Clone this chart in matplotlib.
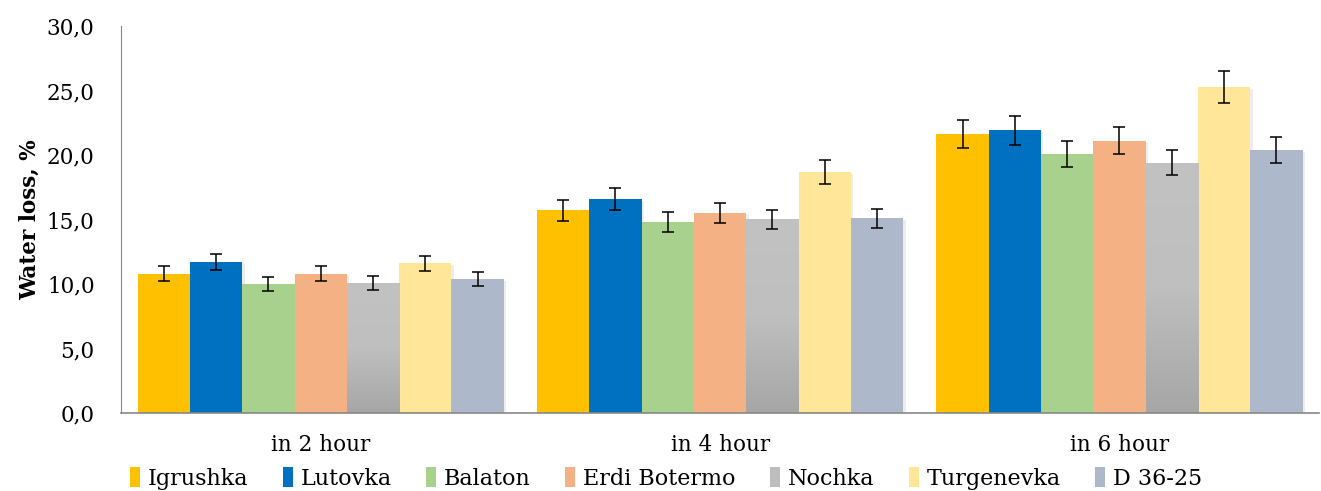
import numpy as np
import matplotlib
matplotlib.use("Agg")
import matplotlib.pyplot as plt
from matplotlib.colors import LinearSegmentedColormap

plt.rcParams['font.family'] = ['DejaVu Serif']

# data
periods = ['in 2 hour', 'in 4 hour', 'in 6 hour']
varieties = ['Igrushka', 'Lutovka', 'Balaton', 'Erdi Botermo', 'Nochka', 'Turgenevka', 'D 36-25']

igrushka = [10.8, 15.7, 21.6]
lutovka = [11.7, 16.6, 21.9]
balaton = [10.0, 14.8, 20.1]
erdi = [10.8, 15.5, 21.1]
nochka = [10.1, 15.0, 19.4]
turgenevka = [11.6, 18.7, 25.3]
d3625 = [10.4, 15.1, 20.4]

igrushka_err = [0.57, 0.80, 1.08]
lutovka_err = [0.60, 0.83, 1.10]
balaton_err = [0.53, 0.75, 1.00]
erdi_err = [0.57, 0.78, 1.06]
nochka_err = [0.53, 0.75, 0.98]
turgenevka_err = [0.60, 0.93, 1.25]
d3625_err = [0.54, 0.75, 1.03]

values = [igrushka, lutovka, balaton, erdi, nochka, turgenevka, d3625]
errors = [igrushka_err, lutovka_err, balaton_err, erdi_err, nochka_err, turgenevka_err, d3625_err]
colors = ['#FFC000', '#0070C0', '#A9D18E', '#F4B183', '#BDBDBD', '#FFE699', '#ADB9CA']

fig = plt.figure(figsize=(13.21, 4.91), dpi=100)
ax = fig.add_axes([0.0916, 0.159, 0.907, 0.788])

x = np.arange(len(periods))
w = 0.131
gray_cmap = LinearSegmentedColormap.from_list('g', ['#A6A6A6', '#BFBFBF', '#C2C2C2'])

for i, (name, vals, errs, c) in enumerate(zip(varieties, values, errors, colors)):
    pos = x + (i - 3) * w
    # soft shadow
    ax.bar(pos + 0.006, vals, w, bottom=-0.15, color='#000000', alpha=0.07, zorder=1, linewidth=0)
    bars = ax.bar(pos, vals, w, color=c, label=name, zorder=2, linewidth=0)
    if name == 'Nochka':
        for b in bars:
            bx, by = b.get_x(), b.get_y()
            bw, bh = b.get_width(), b.get_height()
            grad = np.linspace(0, 1, 256).reshape(-1, 1)
            im = ax.imshow(grad, cmap=gray_cmap, aspect='auto', origin='lower',
                           extent=[bx, bx + bw, by, by + bh], zorder=2.5)
            im.set_clip_path(b)
    ax.errorbar(pos, vals, yerr=errs, fmt='none', ecolor='black', elinewidth=1.1,
                capsize=4.3, capthick=1.1, zorder=3)

ax.set_xlim(-0.5, 2.5)
ax.set_ylim(0, 30)
ax.set_yticks(np.arange(0, 31, 5))
ax.set_yticklabels([f'{v:.1f}'.replace('.', ',') for v in np.arange(0, 31, 5)], fontsize=15.5)
ax.set_xticks(x)
ax.set_xticklabels(periods, fontsize=15.5)
ax.tick_params(axis='y', length=0, pad=19)
ax.tick_params(axis='x', length=0, pad=15)
ax.set_ylabel('Water loss, %', fontsize=15.5, fontweight='bold', labelpad=4)

for s in ['top', 'right']:
    ax.spines[s].set_visible(False)
ax.spines['left'].set_color('#888888')
ax.spines['bottom'].set_color('#888888')
ax.spines['bottom'].set_linewidth(1.2)

leg = ax.legend(loc='upper center', bbox_to_anchor=(0.455, -0.117), ncol=7, frameon=False,
                fontsize=16, handlelength=0.45, handleheight=1.0, handletextpad=0.35,
                columnspacing=1.55, borderaxespad=0)

fig.savefig('out.png', dpi=100)
